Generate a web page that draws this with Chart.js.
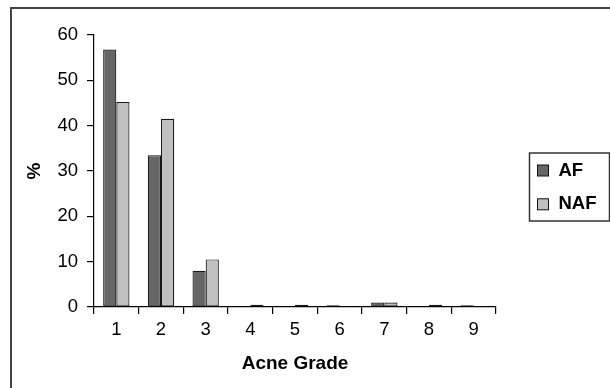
<!DOCTYPE html>
<html><head><meta charset="utf-8">
<script src="https://cdn.jsdelivr.net/npm/chart.js@4/dist/chart.umd.min.js"></script>
<style>html,body{margin:0;padding:0;background:#fff}#wrap{width:610px;height:388px;position:relative}</style>
</head><body><div id="wrap"><canvas id="c" width="610" height="388"></canvas></div>
<script>
const categories = ['1','2','3','4','5','6','7','8','9'];
const afValues = [56.8, 33.5, 8.0, 0.2, 0.2, 0.4, 1.0, 0.2, 0.4];
const nafValues = [45.2, 41.5, 10.5, 0.5, 0.5, 0.2, 1.0, 0.5, 0.2];
const seriesNames = ['AF', 'NAF'];
const yTicks = [0, 10, 20, 30, 40, 50, 60];
const FONT = '"Liberation Sans", Arial, sans-serif';

const framePlugin = {
  id: 'frame',
  afterDraw(chart) {
    const ctx = chart.ctx;
    ctx.save();
    ctx.fillStyle = '#444';
    ctx.fillRect(10, 7, 2, chart.height - 7);
    ctx.fillRect(10, 7, chart.width - 10, 2);
    // legend
    ctx.strokeStyle = '#333';
    ctx.lineWidth = 1.5;
    ctx.strokeRect(529.5, 153, 80, 68);
    ctx.lineWidth = 1;
    chart.data.datasets.forEach((ds, i) => {
      const cy = 170.5 + i * 33.8;
      ctx.fillStyle = ds.backgroundColor;
      ctx.fillRect(537.5, cy - 5.5, 11, 11);
      ctx.strokeStyle = '#111';
      ctx.strokeRect(537.5, cy - 5.5, 11, 11);
      ctx.fillStyle = '#000';
      ctx.font = 'bold 18.5px ' + FONT;
      ctx.textBaseline = 'middle';
      ctx.textAlign = 'left';
      ctx.fillText(ds.label, 558.5, cy);
    });
    ctx.restore();
  }
};

new Chart(document.getElementById('c'), {
  type: 'bar',
  data: {
    labels: categories,
    datasets: [
      { label: seriesNames[0], data: afValues, backgroundColor: '#666666', borderColor: '#1a1a1a', borderWidth: 1.2, borderSkipped: false },
      { label: seriesNames[1], data: nafValues, backgroundColor: '#c0c0c0', borderColor: '#1a1a1a', borderWidth: 1.2, borderSkipped: false }
    ]
  },
  options: {
    responsive: false,
    animation: false,
    devicePixelRatio: 1,
    layout: { padding: { left: 0, right: 114, top: 35, bottom: 0 } },
    plugins: { legend: { display: false }, tooltip: { enabled: false } },
    datasets: { bar: { categoryPercentage: 0.59, barPercentage: 1.0 } },
    scales: {
      x: {
        afterFit(axis) { axis.height = 81; },
        grid: { offset: true, drawOnChartArea: false, drawTicks: true, tickLength: 7, color: '#000', lineWidth: 1.2 },
        border: { color: '#000', width: 1.2 },
        ticks: { color: '#000', font: { family: FONT, size: 18.5 }, padding: 5, maxRotation: 0 },
        title: { display: true, text: 'Acne Grade', color: '#000', font: { family: FONT, size: 19, weight: 'bold' }, padding: { top: 0, bottom: 13 } }
      },
      y: {
        min: 0, max: 60,
        afterFit(axis) { axis.width = 94; },
        afterBuildTicks(axis) { axis.ticks = yTicks.map(v => ({ value: v })); },
        grid: { drawOnChartArea: false, drawTicks: true, tickLength: 7, color: '#000', lineWidth: 1.2 },
        border: { color: '#000', width: 1.2 },
        ticks: { color: '#000', font: { family: FONT, size: 18.5 }, padding: 9 },
        title: { display: true, text: '%', color: '#000', font: { family: FONT, size: 19, weight: 'bold' }, padding: { top: 23, bottom: 0 } }
      }
    }
  },
  plugins: [framePlugin]
});
</script></body></html>
